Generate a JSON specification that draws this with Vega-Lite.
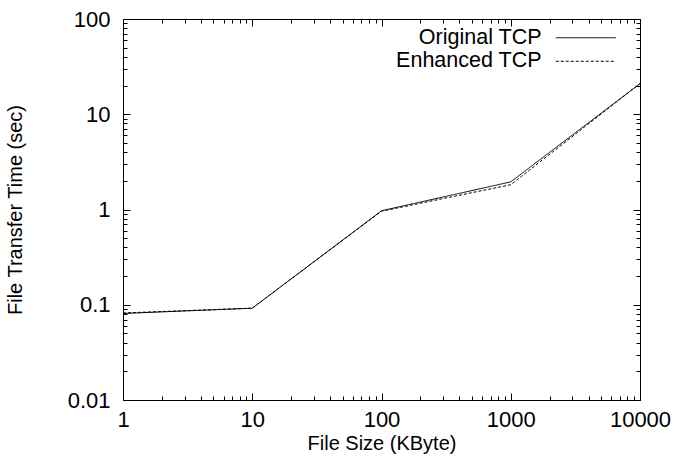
{
  "$schema": "https://vega.github.io/schema/vega-lite/v6.json",
  "width": 517,
  "height": 381,
  "autosize": {"type": "none"},
  "padding": {"left": 123, "top": 19, "right": 34, "bottom": 59},
  "background": "white",
  "config": {
    "font": "Liberation Sans",
    "view": {"stroke": "black", "strokeWidth": 1},
    "axis": {
      "domainColor": "black",
      "tickColor": "black",
      "labelColor": "black",
      "titleColor": "black",
      "labelFont": "Liberation Sans",
      "titleFont": "Liberation Sans",
      "labelFontSize": 22,
      "titleFontSize": 20,
      "titleFontWeight": "normal",
      "grid": false,
      "labelOverlap": false,
      "labelFlush": false,
      "labelBound": false
    },
    "legend": {
      "orient": "none",
      "legendX": 452,
      "legendY": 8,
      "symbolType": "M-6,0H6",
      "symbolSize": 100,
      "symbolStrokeWidth": 1,
      "symbolStrokeColor": "black",
      "labelFont": "Liberation Sans",
      "labelFontSize": 21.5,
      "labelColor": "black",
      "labelAlign": "right",
      "labelOffset": -55,
      "rowPadding": 0.5
    }
  },
  "data": {
    "values": [
      {"size": 1, "time": 0.081, "series": "Original TCP"},
      {"size": 10, "time": 0.092, "series": "Original TCP"},
      {"size": 100, "time": 0.97, "series": "Original TCP"},
      {"size": 1000, "time": 1.95, "series": "Original TCP"},
      {"size": 10000, "time": 21, "series": "Original TCP"},
      {"size": 1, "time": 0.082, "series": "Enhanced TCP"},
      {"size": 10, "time": 0.092, "series": "Enhanced TCP"},
      {"size": 100, "time": 0.96, "series": "Enhanced TCP"},
      {"size": 1000, "time": 1.82, "series": "Enhanced TCP"},
      {"size": 10000, "time": 21, "series": "Enhanced TCP"}
    ]
  },
  "layer": [
    {
      "mark": {"type": "line", "color": "black", "strokeWidth": 1},
      "encoding": {
        "x": {
          "field": "size",
          "type": "quantitative",
          "scale": {"type": "log", "domain": [1, 10000], "nice": false},
          "axis": {
            "orient": "bottom",
            "title": "File Size (KByte)",
            "titlePadding": 0,
            "labelPadding": 16,
            "values": [1,2,3,4,5,6,7,8,9,10,20,30,40,50,60,70,80,90,100,200,300,400,500,600,700,800,900,1000,2000,3000,4000,5000,6000,7000,8000,9000,10000],
            "labelExpr": "indexof([1,10,100,1000,10000], datum.value) >= 0 ? datum.value : ''",
            "tickSize": {"condition": {"test": "indexof([1,10,100,1000,10000], datum.value) >= 0", "value": -7}, "value": -4}
          }
        },
        "y": {
          "field": "time",
          "type": "quantitative",
          "scale": {"type": "log", "domain": [0.01, 100], "nice": false},
          "axis": {
            "orient": "left",
            "title": "File Transfer Time (sec)",
            "titlePadding": 42,
            "labelPadding": 20,
            "values": [0.01,0.02,0.03,0.04,0.05,0.06,0.07,0.08,0.09,0.1,0.2,0.3,0.4,0.5,0.6,0.7,0.8,0.9,1,2,3,4,5,6,7,8,9,10,20,30,40,50,60,70,80,90,100],
            "labelExpr": "indexof([0.01,0.1,1,10,100], datum.value) >= 0 ? datum.value : ''",
            "tickSize": {"condition": {"test": "indexof([0.01,0.1,1,10,100], datum.value) >= 0", "value": -7}, "value": -4}
          }
        },
        "strokeDash": {
          "field": "series",
          "type": "nominal",
          "scale": {"domain": ["Original TCP", "Enhanced TCP"], "range": [[1, 0], [3, 2]]},
          "legend": {"title": null}
        }
      }
    },
    {
      "mark": {"type": "line", "opacity": 0},
      "encoding": {
        "x": {
          "field": "size",
          "type": "quantitative",
          "scale": {"type": "log", "domain": [1, 10000], "nice": false},
          "axis": {
            "orient": "top",
            "title": null,
            "labels": false,
            "values": [1,2,3,4,5,6,7,8,9,10,20,30,40,50,60,70,80,90,100,200,300,400,500,600,700,800,900,1000,2000,3000,4000,5000,6000,7000,8000,9000,10000],
            "tickSize": {"condition": {"test": "indexof([1,10,100,1000,10000], datum.value) >= 0", "value": -7}, "value": -4}
          }
        },
        "y": {
          "field": "time",
          "type": "quantitative",
          "scale": {"type": "log", "domain": [0.01, 100], "nice": false},
          "axis": {
            "orient": "right",
            "title": null,
            "labels": false,
            "values": [0.01,0.02,0.03,0.04,0.05,0.06,0.07,0.08,0.09,0.1,0.2,0.3,0.4,0.5,0.6,0.7,0.8,0.9,1,2,3,4,5,6,7,8,9,10,20,30,40,50,60,70,80,90,100],
            "tickSize": {"condition": {"test": "indexof([0.01,0.1,1,10,100], datum.value) >= 0", "value": -7}, "value": -4}
          }
        },
        "detail": {"field": "series", "type": "nominal"}
      }
    }
  ],
  "resolve": {"axis": {"x": "independent", "y": "independent"}}
}
